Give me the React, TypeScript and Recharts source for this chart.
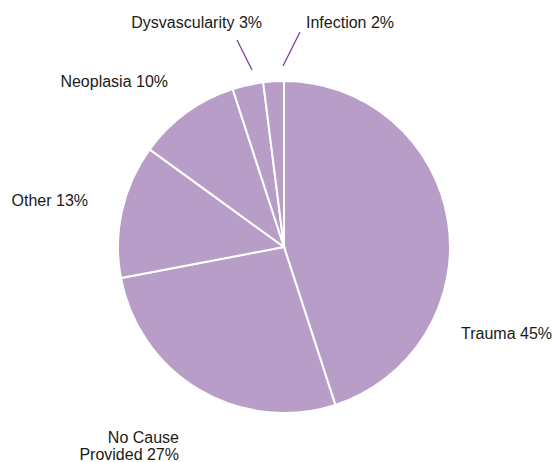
import { PieChart, Pie, Cell } from "recharts";

const causes = [
  "Trauma",
  "No Cause Provided",
  "Other",
  "Neoplasia",
  "Dysvascularity",
  "Infection",
];
const shares = [45, 27, 13, 10, 3, 2];

const data = causes.map((name, i) => ({ name, value: shares[i] }));

// label placement relative to the pie centre (Excel "best fit" style)
const labelLayout: Record<
  string,
  { dx: number; dy: number; anchor: "start" | "end"; lines?: string[]; leader?: number[] }
> = {
  Trauma: { dx: 177, dy: 86, anchor: "start" },
  "No Cause Provided": { dx: -105, dy: 190, anchor: "end", lines: ["No Cause", "Provided"] },
  Other: { dx: -196, dy: -47, anchor: "end" },
  Neoplasia: { dx: -116, dy: -166, anchor: "end" },
  Dysvascularity: { dx: -22, dy: -225, anchor: "end", leader: [-47, -207, -32, -177] },
  Infection: { dx: 22, dy: -225, anchor: "start", leader: [16, -215, -1, -181] },
};

const FILL = "#b79dc7";
const LEADER = "#7a3d9c";
const FONT = "'Liberation Sans', Arial, sans-serif";

const renderLabel = (props: any) => {
  const { cx, cy, name, value } = props;
  const l = labelLayout[name];
  if (!l) return null;
  const x = cx + l.dx;
  const y = cy + l.dy;
  const pct = `${value}%`;
  return (
    <g>
      {l.leader && (
        <line
          x1={cx + l.leader[0]}
          y1={cy + l.leader[1]}
          x2={cx + l.leader[2]}
          y2={cy + l.leader[3]}
          stroke={LEADER}
          strokeWidth={1.3}
        />
      )}
      <text
        x={x}
        y={y}
        textAnchor={l.anchor}
        dominantBaseline="central"
        fill="#1a1a1a"
        fontSize={16}
        fontFamily={FONT}
      >
        {l.lines ? (
          <>
            <tspan x={x} dy={0}>
              {l.lines[0]}
            </tspan>
            <tspan x={x} dy={17}>
              {`${l.lines[1]} ${pct}`}
            </tspan>
          </>
        ) : (
          `${name} ${pct}`
        )}
      </text>
    </g>
  );
};

export default function App() {
  return (
    <div style={{ position: "absolute", left: 0, top: 0 }}>
      <PieChart width={557} height={462} margin={{ top: 0, right: 0, bottom: 0, left: 0 }}>
        <Pie
          data={data}
          dataKey="value"
          nameKey="name"
          cx={284}
          cy={247}
          outerRadius={166}
          startAngle={90}
          endAngle={-270}
          stroke="#ffffff"
          strokeWidth={2}
          label={renderLabel}
          labelLine={false}
          isAnimationActive={false}
        >
          {data.map((d) => (
            <Cell key={d.name} fill={FILL} />
          ))}
        </Pie>
      </PieChart>
    </div>
  );
}
